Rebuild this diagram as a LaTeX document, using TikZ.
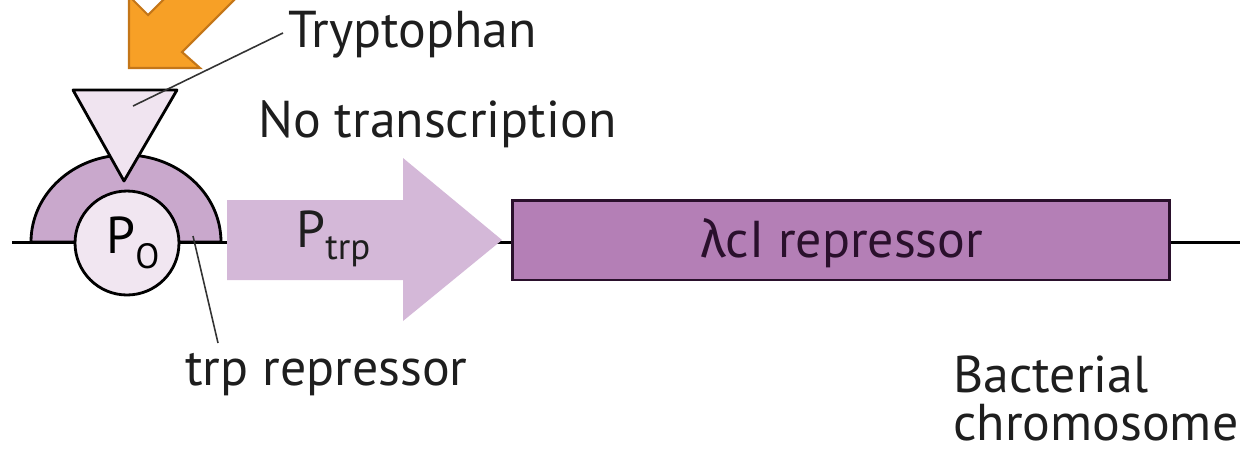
\documentclass[tikz,border=0pt]{standalone}
\usepackage{fontspec}
\setmainfont{PT Sans}
\newfontfamily\grk{Fira Sans}
\definecolor{orangeF}{RGB}{247,160,38}
\definecolor{orangeD}{RGB}{196,118,24}
\definecolor{repF}{RGB}{201,168,204}
\definecolor{lightF}{RGB}{241,230,241}
\definecolor{triF}{RGB}{240,228,240}
\definecolor{arrF}{RGB}{212,184,216}
\definecolor{geneF}{RGB}{180,127,182}
\definecolor{txt}{RGB}{30,30,30}
\definecolor{genetxt}{RGB}{42,16,44}
\begin{document}
\begin{tikzpicture}[x=0.02cm,y=-0.02cm,
  lbl/.style={font=\fontsize{29.5}{32}\selectfont, inner sep=0pt, anchor=base west, text=txt},
  outl/.style={draw=black, line width=1.6pt, line join=round},
  leader/.style={draw=black!80, line width=0.9pt}]
\useasboundingbox (0,0) rectangle (1253,458);
% DNA line
\coordinate (dnaL) at (12,242);
\coordinate (dnaR) at (1240,242);
\draw[line width=1.7pt] (dnaL) -- (dnaR);
% trp repressor (half ellipse)
\path[outl, fill=repF] (31,242) arc[start angle=180, end angle=360, x radius=95, y radius=87] -- cycle;
\coordinate (rep) at (193,236);
% operator circle
\node[circle, outl, fill=lightF, minimum size=2.08cm, inner sep=0pt] (po) at (127,243) {};
\node[lbl, text=black] (potext) at (106,253) {P\raisebox{-0.3cm}{\fontsize{20}{21}\selectfont O}};
% tryptophan triangle
\path[outl, fill=triF] (73,90) -- (177,90) -- (124,181) -- cycle;
\coordinate (trpin) at (133,106);
% P_trp arrow
\path[fill=arrF] (227,200) -- (403,200) -- (403,158) -- (502,240) -- (403,321) -- (403,280) -- (227,280) -- cycle;
\node[lbl] (ptrp) at (296,247) {P\raisebox{-0.24cm}{\fontsize{21}{23}\selectfont trp}};
% gene box
\node[draw=genetxt, line width=1.7pt, fill=geneF, minimum width=13.16cm, minimum height=1.6cm, inner sep=0pt] (gene) at (841,240) {};
\node[lbl, text=genetxt] (genetext) at (700,257) {{\grk λ}cI repressor};
% orange arrow
\begin{scope}
\clip (0,0) rectangle (1253,458);
\path[draw=orangeD, line width=1.2pt, fill=orangeF, line join=miter] (129,68) -- (200,68) -- (182,52) -- (245,-11) -- (174,-11) -- (148,15) -- (129,-4) -- cycle;
\end{scope}
% labels
\node[lbl] (tryp) at (288,47) {Tryptophan};
\node[lbl] (notr) at (258,137) {No transcription};
\node[lbl] (trprep) at (185,385) {trp repressor};
\node[lbl] (bact) at (953,392) {Bacterial};
\node[lbl] (chrom) at (953,440) {chromosome};
% leaders
\coordinate (trypend) at (283,33);
\coordinate (repend) at (218,343);
\draw[leader] (trpin) -- (trypend);
\draw[leader] (rep) -- (repend);
\end{tikzpicture}
\end{document}
